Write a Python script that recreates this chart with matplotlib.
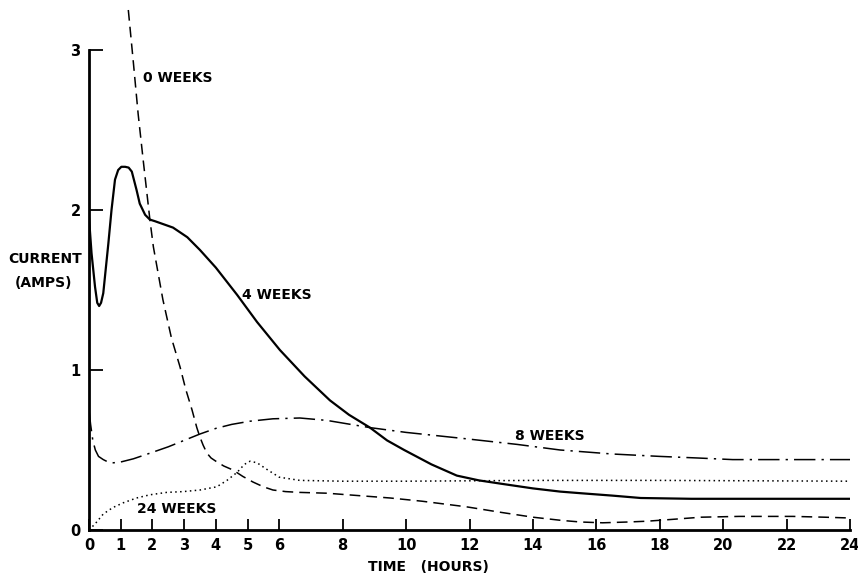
import matplotlib
matplotlib.use("Agg")
import matplotlib.pyplot as plt

# ---- data ----
t0 = [1.24, 1.4, 1.55, 1.71, 1.92, 2.03, 2.33, 2.6, 2.87, 3.05, 3.25, 3.4, 3.5, 3.6, 3.72, 3.85, 4.0,
      4.25, 4.54, 4.85, 5.17, 5.5, 5.8, 6.2, 6.65, 7.5, 8.5, 9.5, 10.5, 11.9, 13.0, 14.0, 14.9,
      15.5, 16.2, 17.0, 17.6, 18.3, 19.3, 20.5, 22.2, 23.2, 24.0]
i0 = [3.25, 2.92, 2.6, 2.31, 1.94, 1.77, 1.44, 1.2, 1.02, 0.88, 0.75, 0.64, 0.58, 0.53, 0.48, 0.45, 0.43,
      0.40, 0.375, 0.335, 0.30, 0.27, 0.25, 0.24, 0.235, 0.23, 0.215, 0.20, 0.18, 0.145, 0.11, 0.08, 0.06,
      0.05, 0.045, 0.05, 0.055, 0.065, 0.08, 0.085, 0.085, 0.08, 0.075]

t4 = [0.0, 0.08, 0.19, 0.26, 0.32, 0.38, 0.45, 0.61, 0.71, 0.82, 0.92, 1.02, 1.14, 1.25, 1.35, 1.5, 1.6,
      1.77, 1.92, 2.08, 2.65, 3.1, 3.5, 4.0, 4.67, 5.3, 6.02, 6.8, 7.6, 8.2, 8.86, 9.4, 9.94, 10.8, 11.6,
      12.3, 12.97, 14.0, 14.86, 15.5, 16.5, 17.4, 19.0, 20.5, 22.0, 24.0]
i4 = [1.95, 1.73, 1.52, 1.42, 1.40, 1.42, 1.48, 1.79, 2.0, 2.19, 2.25, 2.27, 2.27, 2.265, 2.24, 2.125, 2.04,
      1.97, 1.94, 1.93, 1.89, 1.83, 1.75, 1.64, 1.47, 1.30, 1.125, 0.96, 0.81, 0.72, 0.64, 0.56, 0.50, 0.41, 0.34,
      0.31, 0.29, 0.26, 0.24, 0.23, 0.215, 0.20, 0.195, 0.195, 0.195, 0.195]

t8 = [0.0, 0.05, 0.12, 0.2, 0.3, 0.45, 0.6, 0.77, 1.0, 1.4, 1.92, 2.5, 3.0, 3.5, 4.0, 4.5, 5.08,
      5.8, 6.65, 7.5, 8.86, 10.0, 11.9, 13.5, 14.86, 16.5, 18.0, 19.2, 20.3, 22.0, 24.0]
i8 = [0.75, 0.66, 0.56, 0.50, 0.46, 0.44, 0.425, 0.42, 0.425, 0.445, 0.48, 0.52, 0.56, 0.60, 0.635, 0.66, 0.68,
      0.695, 0.70, 0.685, 0.64, 0.61, 0.57, 0.535, 0.50, 0.475, 0.46, 0.45, 0.44, 0.44, 0.44]

t24 = [0.0, 0.2, 0.45, 0.75, 1.08, 1.5, 1.92, 2.45, 2.97, 3.5, 4.03, 4.35, 4.67, 4.9, 5.08, 5.3, 5.6,
       6.0, 6.65, 8.0, 10.0, 14.0, 18.0, 24.0]
i24 = [0.0, 0.04, 0.10, 0.14, 0.17, 0.20, 0.22, 0.235, 0.24, 0.25, 0.27, 0.31, 0.36, 0.41, 0.43, 0.42, 0.38,
       0.33, 0.31, 0.305, 0.305, 0.31, 0.31, 0.305]

xticks = [0, 1, 2, 3, 4, 5, 6, 8, 10, 12, 14, 16, 18, 20, 22, 24]
yticks = [0, 1, 2, 3]
labels = ["0 WEEKS", "4 WEEKS", "8 WEEKS", "24 WEEKS"]

# ---- figure ----
plt.rcParams['font.family'] = ['DejaVu Sans']
plt.rcParams['font.weight'] = 'bold'
fig = plt.figure(figsize=(8.58, 5.76), dpi=100)
ax = fig.add_axes([89 / 858, 1 - 530 / 576, (850 - 89) / 858, 520 / 576])
ax.set_xlim(0, 24)
ax.set_ylim(0, 3.25)

k = 'black'
ax.plot(t0, i0, color=k, lw=1.1, dashes=(7, 4), clip_on=False)
ax.plot(t4, i4, color=k, lw=1.6, solid_joinstyle='round')
ax.plot(t8, i8, color=k, lw=1.1, dashes=(14, 4, 1.5, 4))
ax.plot(t24, i24, color=k, lw=1.1, dashes=(1, 2.2))

ax.text(1.70, 2.825, labels[0], fontsize=10, fontweight='bold', va='center', ha='left')
ax.text(4.83, 1.47, labels[1], fontsize=10, fontweight='bold', va='center', ha='left')
ax.text(13.44, 0.59, labels[2], fontsize=10, fontweight='bold', va='center', ha='left')
ax.text(1.51, 0.13, labels[3], fontsize=10, fontweight='bold', va='center', ha='left')

for s in ['top', 'right']:
    ax.spines[s].set_visible(False)
ax.spines['left'].set_bounds(0, 3)
ax.spines['left'].set_linewidth(2.0)
ax.spines['bottom'].set_linewidth(2.0)

ax.set_xticks(xticks)
ax.set_xticklabels([str(v) for v in xticks])
ax.set_yticks(yticks)
ax.set_yticklabels([str(v) for v in yticks])
ax.tick_params(axis='x', direction='in', length=8, width=1.3, pad=6, labelsize=10.5)
ax.tick_params(axis='y', direction='in', length=10, width=1.3, pad=6, labelsize=10.5)

fig.text(8 / 858, 1 - 259 / 576, "CURRENT", fontsize=10, fontweight='bold', va='center', ha='left')
fig.text(15 / 858, 1 - 283 / 576, "(AMPS)", fontsize=10, fontweight='bold', va='center', ha='left')
fig.text(368 / 858, 1 - 567 / 576, "TIME   (HOURS)", fontsize=10, fontweight='bold', va='center', ha='left')

fig.savefig("out.png", dpi=100)
